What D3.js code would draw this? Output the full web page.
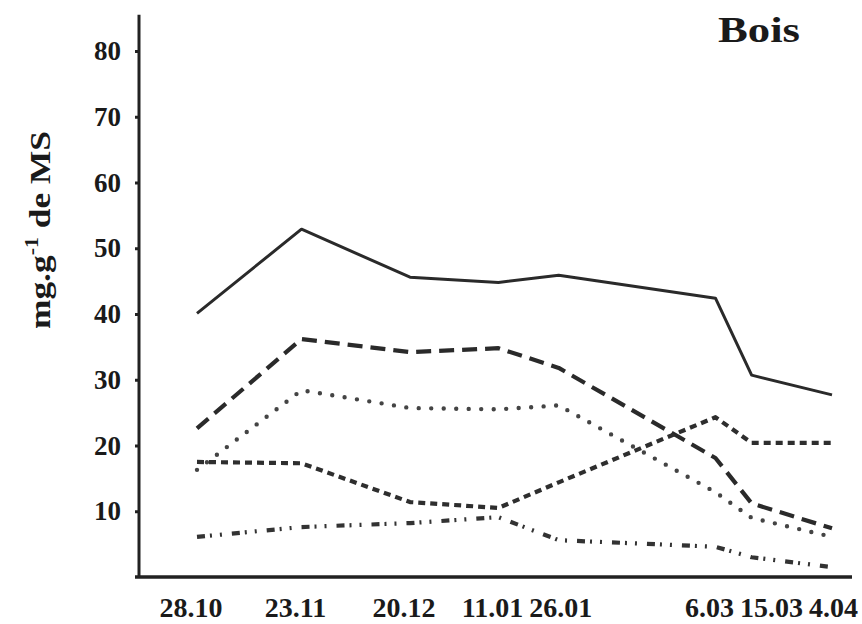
<!DOCTYPE html>
<html>
<head>
<meta charset="utf-8">
<script src="https://cdn.jsdelivr.net/npm/d3@7"></script>
<style>
  html, body { margin: 0; padding: 0; background: #fff; }
  svg { display: block; }
  text { font-family: "Liberation Serif", "Times New Roman", serif; font-weight: bold; fill: #1a1a1a; }
</style>
</head>
<body>
<svg id="chart" width="862" height="624"></svg>
<script>
// ---- data ----
const dates = ["1990-10-28", "1990-11-23", "1990-12-20", "1991-01-11", "1991-01-26", "1991-03-06", "1991-03-15", "1991-04-04"];
const serieSolid     = [40.1, 52.9, 45.6, 44.8, 45.9, 42.4, 30.7, 27.7];
const serieLongDash  = [22.6, 36.2, 34.2, 34.8, 31.8, 18.1, 11.2, 7.4];
const serieDotted    = [16.3, 28.4, 25.7, 25.5, 26.1, 12.9, 9.0, 6.1];
const serieShortDash = [17.5, 17.3, 11.4, 10.5, 14.4, 24.3, 20.4, 20.4];
const serieDashDot   = [6.1, 7.6, 8.2, 9.1, 5.6, 4.6, 3.0, 1.5];
const yTicks = [10, 20, 30, 40, 50, 60, 70, 80];
const yTitle = "mg.g";
const yTitleSup = "-1";
const yTitleRest = " de MS";
const panelTitle = "Bois";

// ---- setup ----
const parse = d3.timeParse("%Y-%m-%d");
const fmt = d3.timeFormat("%-d.%m");
const dateObjs = dates.map(parse);

const svg = d3.select("#chart");
const axisX = 139, axisY = 577;

const x = d3.scaleTime().domain(d3.extent(dateObjs)).range([197, 832]);
const y = d3.scaleLinear().domain([0, 80]).range([axisY, 51]);

// ---- series ----
const series = [
  { values: serieSolid,     dash: null,            width: 3,   cap: "butt",  color: "#2a2a2a" },
  { values: serieLongDash,  dash: "15,8",          width: 4.2, cap: "butt",  color: "#2a2a2a" },
  { values: serieDotted,    dash: "0,12.5",        width: 4.4, cap: "round", color: "#444" },
  { values: serieShortDash, dash: "7,5",           width: 4.2, cap: "butt",  color: "#2e2e2e" },
  { values: serieDashDot,   dash: "8,5,2,8,2,10",  width: 4.2, cap: "butt",  color: "#333" }
];

const line = d3.line()
  .x(d => x(d.date))
  .y(d => y(d.v));

series.forEach(s => {
  const pts = s.values.map((v, i) => ({ date: dateObjs[i], v }));
  svg.append("path")
    .datum(pts)
    .attr("d", line)
    .attr("fill", "none")
    .attr("stroke", s.color)
    .attr("stroke-width", s.width)
    .attr("stroke-linecap", s.cap)
    .attr("stroke-linejoin", "round")
    .attr("stroke-dasharray", s.dash);
});

// ---- y axis ----
svg.append("line")
  .attr("x1", axisX).attr("x2", axisX)
  .attr("y1", axisY + 1).attr("y2", y(85.5))
  .attr("stroke", "#222").attr("stroke-width", 3);

const yAxis = d3.axisLeft(y).tickValues(yTicks).tickSize(4).tickPadding(14).tickFormat(d3.format("d"));
const gy = svg.append("g").attr("transform", `translate(${axisX},0)`).call(yAxis);
gy.select(".domain").remove();
gy.selectAll(".tick line").attr("stroke", "#222").attr("stroke-width", 3);
gy.selectAll(".tick text")
  .attr("font-size", 27)
  .attr("font-family", "Liberation Serif, serif")
  .attr("font-weight", "bold")
  .attr("fill", "#1a1a1a");

// ---- x axis ----
svg.append("line")
  .attr("x1", axisX - 4).attr("x2", 852)
  .attr("y1", axisY).attr("y2", axisY)
  .attr("stroke", "#222").attr("stroke-width", 3.5);

// x tick labels, with simple overlap avoidance
const labels = dateObjs.map(d => ({ text: fmt(d), cx: x(d) - 6 }));
const gx = svg.append("g");
const texts = gx.selectAll("text").data(labels).join("text")
  .attr("y", 617)
  .attr("text-anchor", "middle")
  .attr("font-size", 28)
  .text(d => d.text);
texts.each(function(d) { d.w = this.getComputedTextLength(); });
let prevRight = -Infinity;
labels.forEach(d => {
  let left = d.cx - d.w / 2;
  if (left < prevRight + 6) { left = prevRight + 6; d.cx = left + d.w / 2; }
  prevRight = left + d.w;
});
texts.attr("x", d => d.cx);

// ---- y title ----
const yt = svg.append("text")
  .attr("transform", `translate(50,230) rotate(-90)`)
  .attr("text-anchor", "middle")
  .attr("font-size", 29)
  .attr("textLength", 198)
  .attr("lengthAdjust", "spacingAndGlyphs");
yt.append("tspan").text(yTitle);
yt.append("tspan").attr("dy", -12).attr("font-size", 18).text(yTitleSup);
yt.append("tspan").attr("dy", 12).text(yTitleRest);

// ---- panel title ----
svg.append("text")
  .attr("x", 759).attr("y", 42)
  .attr("text-anchor", "middle")
  .attr("font-size", 35)
  .attr("textLength", 82)
  .attr("lengthAdjust", "spacingAndGlyphs")
  .text(panelTitle);
</script>
</body>
</html>
